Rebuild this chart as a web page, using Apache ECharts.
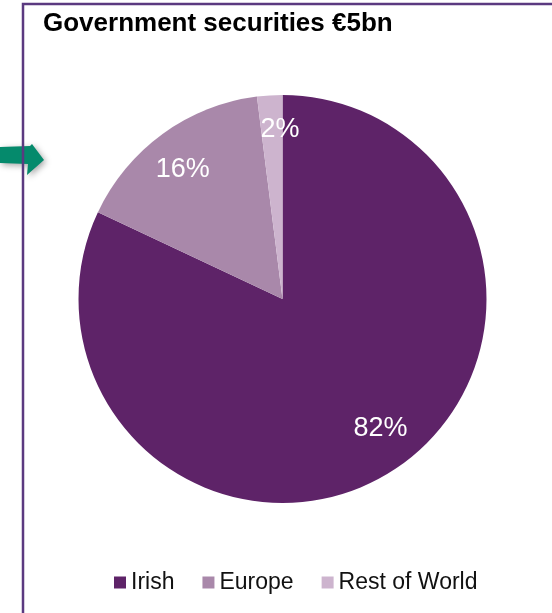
<!DOCTYPE html>
<html>
<head>
<meta charset="utf-8">
<script src="https://cdn.jsdelivr.net/npm/echarts@6/dist/echarts.min.js"></script>
<style>
  html, body { margin: 0; padding: 0; background: #fff; }
  #chart { width: 552px; height: 613px; }
</style>
</head>
<body>
<div id="chart"></div>
<script>
// Government securities by holder, share of total (%)
const categories = ["Irish", "Europe", "Rest of World"];
const shares = [82, 16, 2];

const palette = ["#5e2368", "#a988aa", "#cdb4ce"];
// nudges so the labels sit where the original put them
const labelNudge = [[9, -11], [-2, 5], [8, -4]];
const FONT = "Liberation Sans, Arial, sans-serif";
const CX = 282.5, CY = 299, R = 204;

const pieData = categories.map((name, i) => ({
  name,
  value: shares[i],
  itemStyle: { color: palette[i] }
}));

const chart = echarts.init(document.getElementById("chart"), null, { renderer: "canvas" });

chart.setOption({
  animation: false,
  backgroundColor: "#fff",
  title: {
    text: "Government securities €5bn",
    left: 43,
    top: 11,
    padding: 0,
    textStyle: { fontFamily: FONT, fontSize: 26, fontWeight: "bold", color: "#000" }
  },
  legend: {
    data: categories,
    left: 114,
    top: 571,
    padding: 0,
    icon: "rect",
    itemWidth: 12,
    itemHeight: 12,
    itemGap: 28,
    selectedMode: false,
    textStyle: { fontFamily: FONT, fontSize: 23, color: "#111" }
  },
  graphic: [
    {
      // green arrow pointing at the panel
      type: "polygon",
      z: 1,
      shape: {
        points: [[0, 147], [30, 146], [32, 144], [44, 160], [27, 175], [28, 164], [0, 163]]
      },
      style: {
        fill: "#058a6c",
        shadowBlur: 6,
        shadowColor: "rgba(0,0,0,0.35)",
        shadowOffsetX: 2,
        shadowOffsetY: 2
      }
    },
    {
      // panel border
      type: "polyline",
      z: 2,
      shape: { points: [[23, 613], [23, 4], [552, 4]] },
      style: { stroke: "#5b3a80", lineWidth: 2.5, fill: null }
    }
  ],
  series: [
    {
      type: "pie",
      center: [CX, CY],
      radius: [0, R],
      startAngle: 90,
      clockwise: true,
      silent: true,
      label: { show: false },
      labelLine: { show: false },
      itemStyle: { borderWidth: 0 },
      data: pieData
    },
    {
      // transparent ring used only to place labels at ~0.8 R
      type: "pie",
      center: [CX, CY],
      radius: [R * 0.6, R],
      startAngle: 90,
      clockwise: true,
      silent: true,
      legendHoverLink: false,
      label: {
        show: true,
        position: "inside",
        formatter: "{c}%",
        fontFamily: FONT,
        fontSize: 27,
        color: "#fff"
      },
      labelLine: { show: false },
      itemStyle: { color: "rgba(0,0,0,0)", borderWidth: 0 },
      data: categories.map((name, i) => ({
        name: name + " ",
        value: shares[i],
        label: { offset: labelNudge[i] }
      }))
    }
  ]
});
</script>
</body>
</html>
